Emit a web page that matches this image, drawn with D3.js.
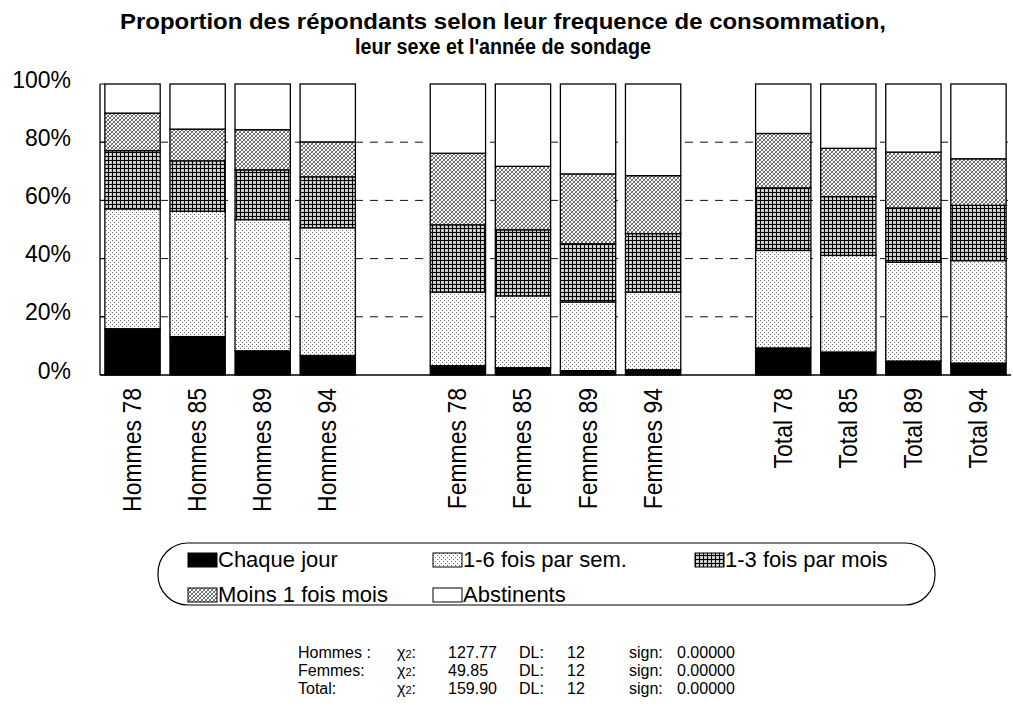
<!DOCTYPE html>
<html>
<head>
<meta charset="utf-8">
<script src="https://cdn.jsdelivr.net/npm/d3@7"></script>
<style>
  body { margin: 0; background: #fff; }
  text { font-family: "Liberation Sans", Arial, Helvetica, sans-serif; fill: #000; }
</style>
</head>
<body>
<div id="chart"></div>
<script>
var groups = ["Hommes", "Femmes", "Total"];
var years = ["78", "85", "89", "94"];
var seriesNames = ["Chaque jour", "1-6 fois par sem.", "1-3 fois par mois", "Moins 1 fois mois", "Abstinents"];

// values in %, order: Hommes 78..94, Femmes 78..94, Total 78..94
var chaqueJour   = [15.9, 13.2,  8.3,  6.7,   3.2,  2.5,  1.5,  1.8,   9.3,  7.9,  4.8,  4.1];
var parSemaine   = [41.2, 43.1, 45.1, 43.9,  25.3, 24.7, 23.6, 26.7,  33.5, 33.2, 34.0, 35.2];
var parMois      = [20.0, 17.3, 17.1, 17.5,  23.1, 22.7, 20.0, 20.1,  21.5, 20.2, 18.6, 19.0];
var moinsUneFois = [12.9, 10.9, 13.8, 12.0,  24.6, 21.8, 24.0, 19.9,  18.7, 16.6, 19.2, 16.0];
var abstinents   = [10.0, 15.5, 15.7, 19.9,  23.8, 28.3, 30.9, 31.5,  17.0, 22.1, 23.4, 25.7];

var yTicks = [0, 20, 40, 60, 80, 100];
var gridTicks = [20, 40, 60, 80];

var statLabels = ["Hommes :", "Femmes:", "Total:"];
var statChi2 = ["127.77", "49.85", "159.90"];
var statDL = ["12", "12", "12"];
var statSign = ["0.00000", "0.00000", "0.00000"];

var W = 1013, H = 713;

var slots = [];
var rows = [];
groups.forEach(function (g, gi) {
  if (gi > 0) slots.push("gap" + gi);
  years.forEach(function (yr, yi) {
    var i = gi * 4 + yi;
    slots.push(g + " " + yr);
    rows.push({
      key: g + " " + yr,
      "Chaque jour": chaqueJour[i],
      "1-6 fois par sem.": parSemaine[i],
      "1-3 fois par mois": parMois[i],
      "Moins 1 fois mois": moinsUneFois[i],
      "Abstinents": abstinents[i]
    });
  });
});

var x = d3.scaleBand().domain(slots).range([100, 1011]).paddingInner(0.15).paddingOuter(0.075);
var y = d3.scaleLinear().domain([0, 100]).range([375, 84]);

var stacked = d3.stack().keys(seriesNames)(rows);

var svg = d3.select("#chart")
  .append("svg")
  .attr("width", W)
  .attr("height", H);

// fill patterns
var defs = svg.append("defs");

function px(p, xx, yy, c) {
  p.append("rect").attr("x", xx).attr("y", yy).attr("width", 1).attr("height", 1).attr("fill", c);
}

var pDots = defs.append("pattern").attr("id", "p-sem")
  .attr("patternUnits", "userSpaceOnUse").attr("width", 4).attr("height", 4);
pDots.append("rect").attr("width", 4).attr("height", 4).attr("fill", "#fff");
px(pDots, 0, 0, "#6e6e6e");
px(pDots, 2, 2, "#6e6e6e");

var pGrid = defs.append("pattern").attr("id", "p-mois")
  .attr("patternUnits", "userSpaceOnUse").attr("width", 4).attr("height", 4);
pGrid.append("rect").attr("width", 4).attr("height", 4).attr("fill", "#c4c4c4");
px(pGrid, 2, 2, "#f4f4f4");
pGrid.append("rect").attr("x", 0).attr("y", 0).attr("width", 1).attr("height", 4).attr("fill", "#000");
pGrid.append("rect").attr("x", 0).attr("y", 0).attr("width", 4).attr("height", 1).attr("fill", "#000");

// crosshatch: both diagonals, grey
var pCross = defs.append("pattern").attr("id", "p-moins")
  .attr("patternUnits", "userSpaceOnUse").attr("width", 4).attr("height", 4);
pCross.append("rect").attr("width", 4).attr("height", 4).attr("fill", "#fff");
[0, 1, 2, 3].forEach(function (k) {
  px(pCross, k, k, "#8c8c8c");
  px(pCross, 3 - k, k, "#5a5a5a");
});

var fills = {
  "Chaque jour": "#000",
  "1-6 fois par sem.": "url(#p-sem)",
  "1-3 fois par mois": "url(#p-mois)",
  "Moins 1 fois mois": "url(#p-moins)",
  "Abstinents": "#fff"
};

// title
var title = svg.append("g").attr("font-weight", "bold").attr("font-size", 22).attr("text-anchor", "middle");
title.append("text").attr("x", 503).attr("y", 29)
  .attr("textLength", 766).attr("lengthAdjust", "spacingAndGlyphs")
  .text("Proportion des répondants selon leur frequence de consommation,");
title.append("text").attr("x", 503).attr("y", 54)
  .attr("textLength", 296).attr("lengthAdjust", "spacingAndGlyphs")
  .text("leur sexe et l'année de sondage");

// dashed grid behind the bars
svg.append("g")
  .selectAll("line")
  .data(gridTicks)
  .enter()
  .append("line")
  .attr("x1", 100).attr("x2", 1011)
  .attr("y1", (d) => y(d)).attr("y2", (d) => y(d))
  .attr("stroke", "#111")
  .attr("stroke-dasharray", "8,7");

// bars
svg.append("g")
  .selectAll("g")
  .data(stacked)
  .enter()
  .append("g")
  .attr("fill", (s) => fills[s.key])
  .selectAll("rect")
  .data((s) => s)
  .enter()
  .append("rect")
  .attr("x", (d) => x(d.data.key))
  .attr("width", x.bandwidth())
  .attr("y", (d) => y(d[1]))
  .attr("height", (d) => y(d[0]) - y(d[1]))
  .attr("stroke", "#000")
  .attr("stroke-width", 1.3);

// y axis
var yAxis = svg.append("g");
yAxis.append("line")
  .attr("x1", 100).attr("x2", 100)
  .attr("y1", y(100)).attr("y2", y(0))
  .attr("stroke", "#000").attr("stroke-width", 1.3);
yAxis.selectAll(".tick")
  .data(yTicks)
  .enter()
  .append("line")
  .attr("x1", 100).attr("x2", 105)
  .attr("y1", (d) => y(d)).attr("y2", (d) => y(d))
  .attr("stroke", "#000");
yAxis.selectAll("text")
  .data(yTicks)
  .enter()
  .append("text")
  .attr("x", 71)
  .attr("y", (d) => y(d) + 3.5)
  .attr("text-anchor", "end")
  .attr("font-size", 23)
  .text((d) => d + "%");

svg.append("line")
  .attr("x1", 100).attr("x2", 1011)
  .attr("y1", y(0)).attr("y2", y(0))
  .attr("stroke", "#000").attr("stroke-width", 1.3);

// category labels
svg.append("g")
  .selectAll("text")
  .data(rows)
  .enter()
  .append("text")
  .attr("transform", (d) => "translate(" + (x(d.key) + x.bandwidth() / 2 + 8.5) + ",388) rotate(-90) scale(1,1.12)")
  .attr("text-anchor", "end")
  .attr("font-size", 23)
  .text((d) => d.key);

// legend
var legend = svg.append("g");
legend.append("rect")
  .attr("x", 158).attr("y", 543)
  .attr("width", 777).attr("height", 62)
  .attr("rx", 30).attr("ry", 30)
  .attr("fill", "none").attr("stroke", "#000").attr("stroke-width", 1.2);

var legendCols = [188, 433, 695];
var legendRows = [567, 602];

var item = legend.selectAll(".item")
  .data(seriesNames)
  .enter()
  .append("g")
  .attr("transform", (d, i) => "translate(" + legendCols[i % 3] + "," + legendRows[Math.floor(i / 3)] + ")");
item.append("rect")
  .attr("x", 0).attr("y", -14)
  .attr("width", 29).attr("height", 14)
  .attr("fill", (d) => fills[d])
  .attr("stroke", "#000").attr("stroke-width", 1);
item.append("text")
  .attr("x", 30).attr("y", 0)
  .attr("font-size", 22)
  .text((d) => d);

// chi2 summary
var statCols = [298, 397, 448, 519, 567, 629, 677];
var stat = svg.append("g").attr("font-size", 16)
  .selectAll("g")
  .data(statLabels)
  .enter()
  .append("g")
  .attr("transform", (d, i) => "translate(0," + (658 + i * 18) + ")");
stat.append("text").attr("x", statCols[0]).text((d) => d);
var chi = stat.append("text").attr("x", statCols[1]);
chi.append("tspan").text("χ");
chi.append("tspan").attr("font-size", 11).text("2");
chi.append("tspan").text(":");
stat.append("text").attr("x", statCols[2]).text((d, i) => statChi2[i]);
stat.append("text").attr("x", statCols[3]).text("DL:");
stat.append("text").attr("x", statCols[4]).text((d, i) => statDL[i]);
stat.append("text").attr("x", statCols[5]).text("sign:");
stat.append("text").attr("x", statCols[6]).text((d, i) => statSign[i]);
</script>
</body>
</html>
